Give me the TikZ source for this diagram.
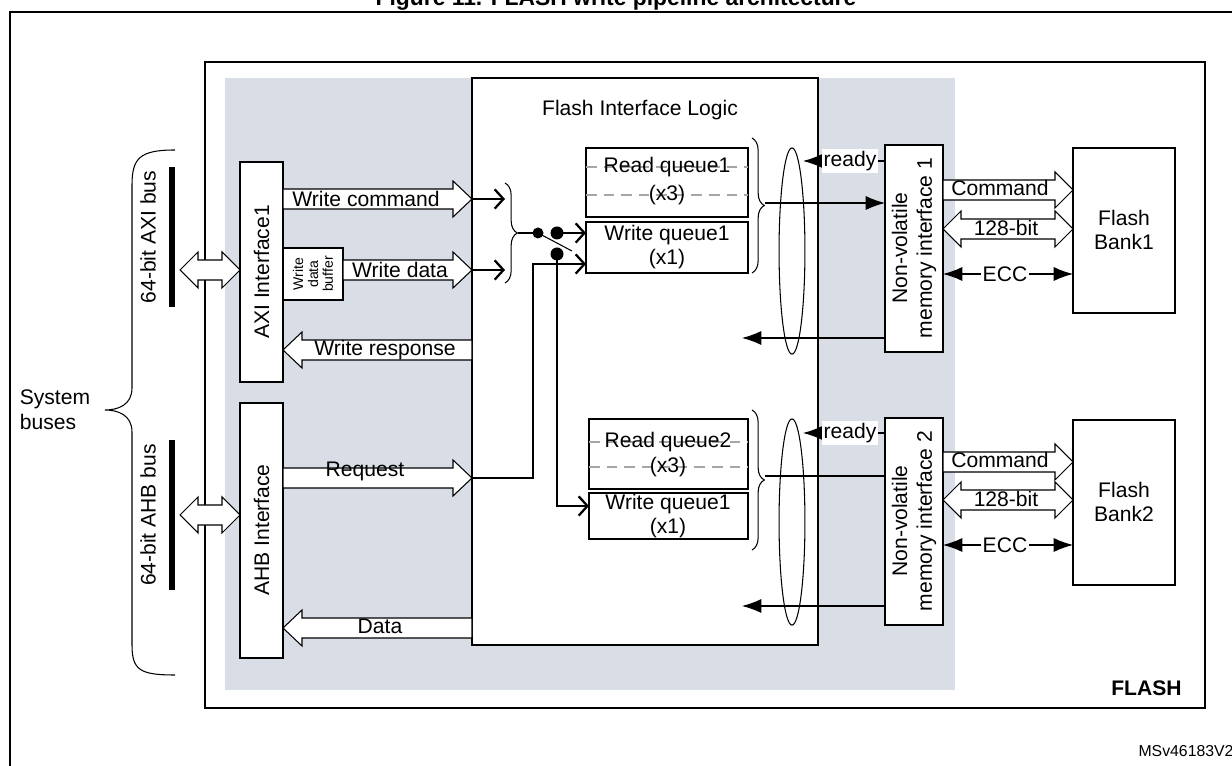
\documentclass[tikz,border=0pt]{standalone}
\usepackage{fontspec}
\setmainfont{Liberation Sans}
\usetikzlibrary{arrows.meta,decorations.pathreplacing,shapes.geometric}
\definecolor{bggray}{HTML}{D8DDE6}
\newcommand\fatR[4]{\draw[fat] (#1,#4-10)--(#2,#4-10)--(#2,#4-18)--(#3,#4)--(#2,#4+18)--(#2,#4+10)--(#1,#4+10)--cycle;}
\newcommand\fatD[5]{\draw[fat] (#1,#5)--(#2,#5-18)--(#2,#5-10)--(#3,#5-10)--(#3,#5-18)--(#4,#5)--(#3,#5+18)--(#3,#5+10)--(#2,#5+10)--(#2,#5+18)--cycle;}
\begin{document}
\begin{tikzpicture}[x=0.02cm,y=-0.02cm,line width=0.6pt,
  fat/.style={draw=black,fill=white,line width=0.6pt},
  lbl/.style={font=\fontsize{12}{14}\selectfont,inner sep=1pt},
  box/.style={draw,fill=white},
  thk/.style={line width=1.6pt,-{Straight Barb[length=5pt,width=11pt,line width=1.3pt]}},
  fil/.style={-{Latex[length=11pt,width=8pt]}},
  dsh/.style={draw=gray!70,dashed,dash pattern=on 6pt off 4pt,line width=0.6pt},
  brc/.style={decorate,decoration={brace,amplitude=7pt}}]
\useasboundingbox (0,0) rectangle (1232,766);
% frames
\draw[line width=1pt] (10,12) rectangle (1245,790);
\node[font=\bfseries\fontsize{13}{15}\selectfont] (title) at (616,0) {Figure 11. FLASH write pipeline architecture};
\draw[line width=1.3pt] (205,62) rectangle (1205,708);
\node[font=\bfseries\fontsize{12}{14}\selectfont,anchor=east] (flash) at (1188,688) {FLASH};
\fill[bggray] (225,78) rectangle (955,690);
\draw[box] (472,78) rectangle (818,645);
\node[lbl] (fil) at (640,110) {Flash Interface Logic};
\node[anchor=south east,font=\fontsize{9}{10}\selectfont,inner sep=0pt] (ms) at (1234,757) {MSv46183V2};
% bus side
\draw[line width=3.5pt] (172,167) -- (172,307);
\draw[line width=3.5pt] (172,440) -- (172,590);
\node[lbl,rotate=90] (axib) at (148,237) {64-bit AXI bus};
\node[lbl,rotate=90] (ahbb) at (148,515) {64-bit AHB bus};
\draw (175,150) .. controls (140,150) and (132,158) .. (132,185) -- (132,388) .. controls (132,405) and (118,410) .. (105,410)
      .. controls (118,410) and (132,415) .. (132,432) -- (132,645) .. controls (132,670) and (140,675) .. (175,675);
\node[lbl,align=left] (sys) at (55,410) {System\\buses};
\fatD{180}{198}{222}{240}{270}
\fatD{180}{198}{222}{240}{515}
% AXI
\draw[box] (240,162) rectangle (283,382);
\node[lbl,rotate=90] (axi) at (261.5,272) {AXI Interface1};
\draw[box] (283,248) rectangle (343,300);
\node[rotate=90,align=center,font=\fontsize{8}{8.5}\selectfont,inner sep=0pt] (wdb) at (313,274) {Write\\data\\buffer};
\fatR{283}{453}{472}{199}\node[lbl] at (366,199) {Write command};
\fatR{343}{453}{472}{270}\node[lbl] at (400,270) {Write data};
\fatR{472}{302}{283}{350}\node[lbl] at (385,350) {Write response};
% AHB
\draw[box] (240,403) rectangle (283,658);
\node[lbl,rotate=90] (ahb) at (261.5,530) {AHB Interface};
\fatR{283}{453}{472}{478}\node[lbl] at (365,471) {Request};
\fatR{472}{302}{283}{628}\node[lbl] at (380,626) {Data};
% queues
\draw[box] (586,148) rectangle (748,217);
\draw[dsh] (586,167) -- (748,167); \draw[dsh] (586,195) -- (748,195);
\node[lbl] (rq1) at (667,167) {Read queue1}; \node[lbl] at (667,195) {(x3)};
\draw[box] (586,222) rectangle (748,273);
\node[lbl,align=center] (wq1) at (667,247) {Write queue1\\(x1)};
\draw[box] (589,419) rectangle (748,489);
\draw[dsh] (589,442) -- (748,442); \draw[dsh] (589,467) -- (748,467);
\node[lbl] (rq2) at (668,442) {Read queue2}; \node[lbl] at (668,467) {(x3)};
\draw[box] (589,493) rectangle (748,539);
\node[lbl,align=center] (wq2) at (668,516) {Write queue1\\(x1)};
% switch
\draw[thk] (472,199) -- (505,199);
\draw[thk] (472,270) -- (505,270);
\draw[brc] (505,183) -- (505,283);
\coordinate (bt) at (518,233);
\fill (538,233) circle (5.5) coordinate (d1);
\fill (557,233) circle (6.5) coordinate (d2);
\fill (557,254) circle (6.5) coordinate (d3);
\draw (bt) -- (d1);
\draw (d1) -- (572,251);
\draw[thk] (d2) -- (586,233);
\draw[thk] (d3) -- (557,506) -- (589,506);
\draw[thk] (472,478) -- (533,478) -- (533,264) -- (586,264);
% right braces & ellipses
\draw[brc] (752,138) -- (752,273);
\draw[brc] (752,410) -- (752,550);
\node[draw,fill=white,ellipse,minimum width=26*0.567pt,minimum height=207*0.567pt,inner sep=0pt] (e1) at (792,251) {};
\node[draw,fill=white,ellipse,minimum width=26*0.567pt,minimum height=207*0.567pt,inner sep=0pt] (e2) at (792,522) {};
% NVM
\draw[box] (885,145) rectangle (943,352);
\node[lbl,rotate=90,align=center] (nvm1) at (914,248) {Non-volatile\\memory interface 1};
\draw[box] (885,418) rectangle (943,625);
\node[lbl,rotate=90,align=center] (nvm2) at (914,521) {Non-volatile\\memory interface 2};
\draw[fil] (885,161) -- (803,161);
\node[lbl,fill=white] (rdy1) at (850,161) {ready};
\draw[fil] (765,203) -- (885,203);
\draw[fil] (885,338) -- (742,338);
\draw[fil] (885,433) -- (803,433);
\node[lbl,fill=white] (rdy2) at (850,433) {ready};
\draw (765,476) -- (885,476);
\draw[fil] (885,606) -- (742,606);
% banks
\draw[box] (1073,148) rectangle (1175,313);
\node[lbl,align=center] (b1) at (1124,230) {Flash\\Bank1};
\draw[box] (1073,420) rectangle (1175,585);
\node[lbl,align=center] (b2) at (1124,502) {Flash\\Bank2};
\fatR{943}{1055}{1073}{190}\node[lbl] at (1000,188) {Command};
\fatD{943}{961}{1055}{1073}{229}\node[lbl] at (1006,228) {128-bit};
\draw[{Latex[length=11pt,width=8pt]}-{Latex[length=11pt,width=8pt]}] (943,274) -- (1073,274);
\node[lbl,fill=white] (ecc1) at (1005,274) {ECC};
\fatR{943}{1055}{1073}{462}\node[lbl] at (1000,460) {Command};
\fatD{943}{961}{1055}{1073}{500}\node[lbl] at (1006,499) {128-bit};
\draw[{Latex[length=11pt,width=8pt]}-{Latex[length=11pt,width=8pt]}] (943,545) -- (1073,545);
\node[lbl,fill=white] (ecc2) at (1005,545) {ECC};
\end{tikzpicture}
\end{document}
